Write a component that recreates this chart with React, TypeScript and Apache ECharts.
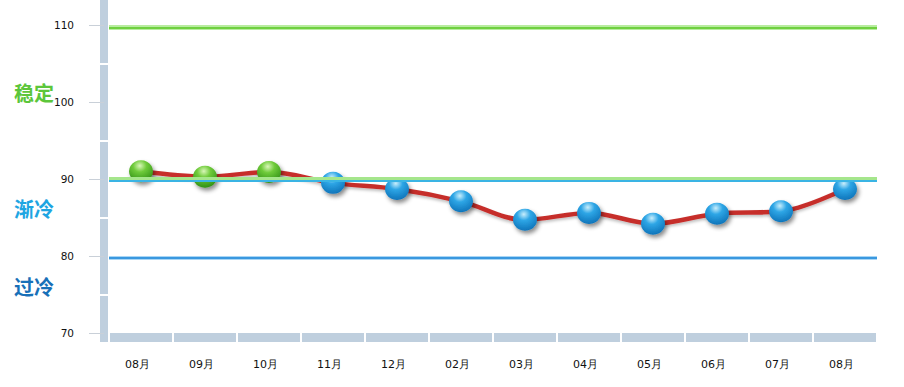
import React, { useEffect, useRef } from "react";
import * as echarts from "echarts";

const months = ["08月", "09月", "10月", "11月", "12月", "02月", "03月", "04月", "05月", "06月", "07月", "08月"];
const values = [91.0, 90.3, 90.9, 89.5, 88.7, 87.1, 84.7, 85.6, 84.2, 85.5, 85.8, 88.7];
const yTickValues = [70, 80, 90, 100, 110];
const yBreakValues = [75, 85, 95, 105];
const stableLine = 109.7;
const coolUpper = 90.15;
const coolLower = 89.75;
const coldLine = 79.75;
const zoneNames = ["稳定", "渐冷", "过冷"];
const Y_MIN = 68.83;
const Y_MAX = 113.25;

export default function App() {
  const ref = useRef<HTMLDivElement>(null);
  useEffect(() => {
    if (!ref.current) return;
    const chart = echarts.init(ref.current, null, { renderer: "svg" });
    const green = new echarts.graphic.RadialGradient(0.45, 0.25, 0.8, [
      { offset: 0, color: "#d9f7b8" },
      { offset: 0.35, color: "#6fcb3a" },
      { offset: 1, color: "#2a8a12" },
    ]);
    const blue = new echarts.graphic.RadialGradient(0.45, 0.25, 0.8, [
      { offset: 0, color: "#c8eefc" },
      { offset: 0.35, color: "#2ea6e6" },
      { offset: 1, color: "#0b6fb5" },
    ]);
    const bandColor = "#bfcfde";
    chart.setOption({
      animation: false,
      grid: { left: 109, right: 27, top: 0, bottom: 45, containLabel: false },
      xAxis: [
        {
          type: "category",
          data: months,
          boundaryGap: true,
          offset: -5,
          axisLine: { show: true, lineStyle: { color: bandColor, width: 9, cap: "butt" } },
          axisTick: { show: false },
          axisLabel: { margin: 22, fontSize: 11, color: "#111", fontFamily: "DejaVu Sans", padding: [0, 7, 0, 0] },
          splitLine: { show: false },
        },
        {
          type: "category",
          data: months,
          boundaryGap: true,
          position: "bottom",
          offset: -9,
          axisLine: { show: false },
          axisTick: { show: true, length: 9, lineStyle: { color: "#ffffff", width: 2 } },
          axisLabel: { show: false },
          splitLine: { show: false },
        },
      ],
      yAxis: [
        {
          type: "value",
          min: Y_MIN,
          max: Y_MAX,
          position: "left",
          offset: 5,
          axisLine: { show: true, lineStyle: { color: bandColor, width: 8, cap: "butt" } },
          axisTick: { show: true, length: 15, customValues: yTickValues, lineStyle: { color: "#c9d0d8", width: 1 } },
          axisLabel: { margin: 30, fontSize: 10.5, color: "#111", fontFamily: "DejaVu Sans", customValues: yTickValues },
          splitLine: { show: false },
        },
        {
          type: "value",
          min: Y_MIN,
          max: Y_MAX,
          position: "left",
          offset: 9,
          axisLine: { show: false },
          axisTick: { show: true, inside: true, length: 8, customValues: yBreakValues, lineStyle: { color: "#ffffff", width: 2 } },
          axisLabel: { show: false, customValues: yBreakValues },
          splitLine: { show: false },
        },
      ],
      series: [
        {
          type: "line",
          data: [],
          z: 1,
          silent: true,
          markLine: {
            silent: true,
            symbol: "none",
            label: { show: false },
            data: [
              { yAxis: stableLine, lineStyle: { color: "#b8eca0", width: 5, type: "solid" } },
              { yAxis: stableLine, lineStyle: { color: "#6fd040", width: 2, type: "solid" } },
              { yAxis: coolUpper, lineStyle: { color: "#a5e68c", width: 3, type: "solid" } },
              { yAxis: coolLower, lineStyle: { color: "#3ab4e4", width: 2, type: "solid" } },
              { yAxis: coldLine, lineStyle: { color: "#a9d6f5", width: 4, type: "solid" } },
              { yAxis: coldLine, lineStyle: { color: "#3a98df", width: 2, type: "solid" } },
            ],
          },
        },
        {
          type: "line",
          data: values,
          z: 3,
          smooth: 0.35,
          symbol: "circle",
          symbolSize: [24, 22],
          lineStyle: {
            color: "#c62f2c",
            width: 4.5,
            shadowColor: "rgba(0,0,0,0.25)",
            shadowBlur: 3,
            shadowOffsetY: 2,
          },
          itemStyle: {
            color: (p: any) => (p.value >= 90 ? green : blue),
            borderWidth: 0,
            shadowColor: "rgba(0,0,0,0.45)",
            shadowBlur: 4,
            shadowOffsetX: 2,
            shadowOffsetY: 3,
          },
        },
      ],
      graphic: [
        {
          type: "text",
          left: 14,
          top: 82,
          style: { text: zoneNames[0], fill: "#5cc63a", font: "bold 20px 'Noto Sans CJK SC'" },
        },
        {
          type: "text",
          left: 14,
          top: 198,
          style: { text: zoneNames[1], fill: "#1ea5e2", font: "bold 20px 'Noto Sans CJK SC'" },
        },
        {
          type: "text",
          left: 14,
          top: 276,
          style: { text: zoneNames[2], fill: "#1870b8", font: "bold 20px 'Noto Sans CJK SC'" },
        },
      ],
    });
    return () => chart.dispose();
  }, []);
  return (
    <div
      ref={ref}
      style={{ position: "fixed", left: 0, top: 0, width: 904, height: 387, background: "#fff" }}
    />
  );
}
